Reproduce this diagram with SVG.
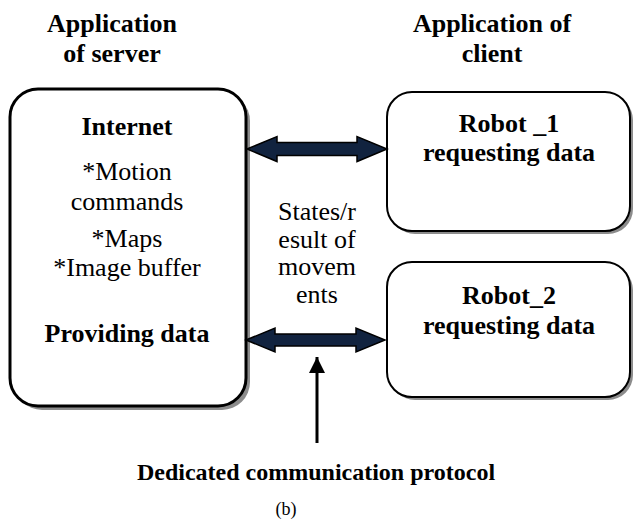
<svg xmlns="http://www.w3.org/2000/svg" width="633" height="522" viewBox="0 0 633 522">
<defs>
<style>
text{font-family:"Liberation Serif","Times New Roman",serif;fill:#000;text-anchor:middle;font-size:26px}
.b{font-weight:bold}
.shadow{fill:#8c8c8c;stroke:none}
.box{fill:#fff;stroke:#000}
.darr{fill:#11233f;stroke:#000;stroke-width:1.5;stroke-linejoin:miter}
</style>
<marker id="ah" markerWidth="16" markerHeight="16" viewBox="0 0 16 16" refX="16" refY="8" orient="auto" markerUnits="userSpaceOnUse">
<path d="M0,0 L16,8 L0,16 Z" fill="#000"/>
</marker>
</defs>
<rect width="633" height="522" fill="#fff"/>

<g id="title-server">
<text class="b" x="112" y="32">Application</text>
<text class="b" x="112" y="62">of server</text>
</g>
<g id="title-client">
<text class="b" x="492" y="32">Application of</text>
<text class="b" x="492" y="62">client</text>
</g>

<g id="server">
<rect class="shadow" x="14" y="93" width="236" height="317" rx="28"/>
<rect class="box" x="10" y="89" width="236" height="317" rx="28" stroke-width="3"/>
<text class="b" x="127" y="135">Internet</text>
<text x="127" y="180">*Motion</text>
<text x="127" y="210">commands</text>
<text x="127" y="247">*Maps</text>
<text x="127" y="276">*Image buffer</text>
<text class="b" x="127" y="342">Providing data</text>
</g>

<g id="robot1">
<rect class="shadow" x="390" y="95" width="243" height="139" rx="25"/>
<rect class="box" x="387" y="92" width="243" height="139" rx="25" stroke-width="2"/>
<text class="b" x="509" y="132">Robot _1</text>
<text class="b" x="509" y="161">requesting data</text>
</g>

<g id="robot2">
<rect class="shadow" x="390" y="265" width="243" height="135" rx="25"/>
<rect class="box" x="387" y="262" width="243" height="135" rx="25" stroke-width="2"/>
<text class="b" x="509" y="304">Robot_2</text>
<text class="b" x="509" y="334">requesting data</text>
</g>

<g id="connectors">
<polygon class="darr" points="247,149 277,136.5 277,142.5 357,142.5 357,136.5 387,149 357,161.5 357,155.5 277,155.5 277,161.5"/>
<polygon class="darr" points="246,340 275,328 275,334 356,334 356,328 385,340 356,352 356,346 275,346 275,352"/>
<line x1="317" y1="443" x2="317" y2="357" stroke="#000" stroke-width="3" marker-end="url(#ah)"/>
</g>

<g id="label-states">
<text x="317" y="220">States/r</text>
<text x="317" y="248">esult of</text>
<text x="317" y="275">movem</text>
<text x="317" y="303">ents</text>
</g>

<g id="label-protocol">
<text class="b" x="316" y="480" style="font-size:24px">Dedicated communication protocol</text>
</g>
<g id="caption">
<text x="286" y="515" style="font-size:18px">(b)</text>
</g>
</svg>
